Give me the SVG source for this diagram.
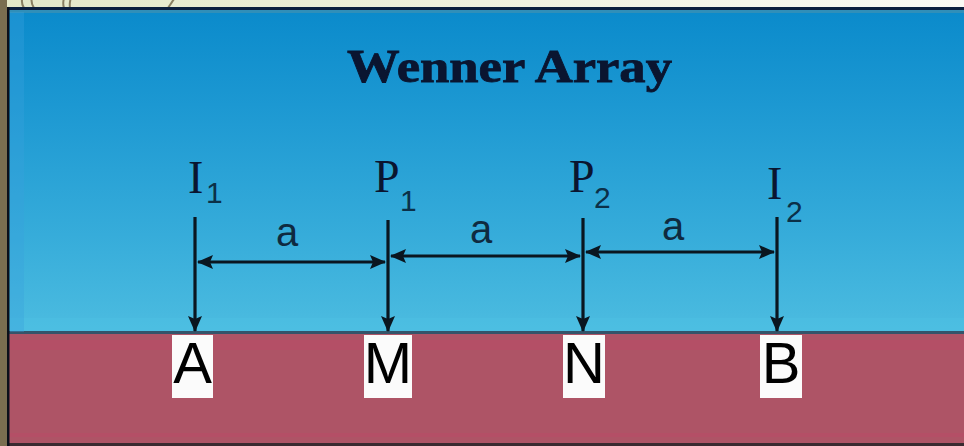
<svg xmlns="http://www.w3.org/2000/svg" width="964" height="446" viewBox="0 0 964 446">
  <defs>
    <linearGradient id="bg" x1="0" y1="0" x2="1" y2="0">
      <stop offset="0" stop-color="#e4e8c8"/>
      <stop offset="1" stop-color="#fafaf4"/>
    </linearGradient>
    <linearGradient id="sky" x1="0" y1="0" x2="0" y2="1">
      <stop offset="0" stop-color="#0a8acb"/>
      <stop offset="0.3" stop-color="#1c98d2"/>
      <stop offset="0.7" stop-color="#36acda"/>
      <stop offset="1" stop-color="#4cbce0"/>
    </linearGradient>
    <marker id="ah" viewBox="0 0 16 14" refX="15" refY="7" markerWidth="16" markerHeight="14" markerUnits="userSpaceOnUse" orient="auto-start-reverse">
      <path d="M0,0 L16,7 L0,14 L3,7 Z" fill="#0a1620"/>
    </marker>
    <clipPath id="topclip"><rect x="0" y="0" width="964" height="8"/></clipPath>
  </defs>
  <style>
    .ln{stroke:#0a1620;stroke-width:3.2;fill:none}
    .title{font-family:"Liberation Serif","Times New Roman",serif;font-weight:bold;fill:#0a1530;stroke:#0a1530;stroke-width:0.8}
    .big{font-family:"Liberation Serif","Times New Roman",serif;font-size:46px;fill:#0a1530}
    .sub{font-family:"Liberation Sans",Arial,sans-serif;font-size:30px;fill:#0b3048}
    .a{font-family:"Liberation Sans",Arial,sans-serif;font-size:40px;fill:#0f2a40;text-anchor:middle}
    .lbl{font-family:"Liberation Sans",Arial,sans-serif;font-size:58px;fill:#000;text-anchor:middle}
    .box{fill:#fbfbfb}
  </style>

  <!-- backdrop -->
  <rect x="0" y="0" width="964" height="446" fill="url(#bg)"/>
  <g clip-path="url(#topclip)" stroke="#8a8062" stroke-width="2" fill="none">
    <path d="M24,8 C20,2 22,-4 26,-10"/>
    <path d="M34,8 C30,2 31,-4 36,-10"/>
    <path d="M64,8 C62,2 64,-4 68,-10"/>
    <path d="M70,8 C69,2 71,-4 74,-10"/>
    <path d="M168,8 L176,-4"/>
  </g>
  <rect x="0" y="0" width="7" height="446" fill="#7a6e50"/>

  <!-- panel -->
  <rect x="7" y="7" width="957" height="325" fill="url(#sky)"/>
  <rect x="7" y="318" width="957" height="13" fill="#4cc0e2" opacity="0.6"/>
  <rect x="7" y="7" width="957" height="3" fill="#0b1f3e"/>
  <rect x="7" y="10" width="957" height="3" fill="#3a90b4" opacity="0.8"/>
  <rect x="7" y="331" width="957" height="3" fill="#34546a"/>
  <rect x="7" y="334" width="957" height="110" fill="#ae5466"/>
  <rect x="7" y="340" width="957" height="10" fill="#b84c66" opacity="0.6"/>
  <rect x="7" y="433" width="957" height="4" fill="#b84c66" opacity="0.6"/>
  <rect x="7" y="443" width="957" height="3" fill="#3a2a30"/>
  <rect x="7" y="7" width="2.5" height="439" fill="#0a0f1a"/>
  <rect x="10" y="12" width="14" height="320" fill="#3aa0dc" opacity="0.35"/>

  <!-- title -->
  <text class="title" x="347" y="82" font-size="46" textLength="325" lengthAdjust="spacingAndGlyphs">Wenner Array</text>

  <!-- connectors -->
  <g id="connectors">
    <line class="ln" x1="195" y1="217" x2="195" y2="331" marker-end="url(#ah)"/>
    <line class="ln" x1="388" y1="220" x2="388" y2="331" marker-end="url(#ah)"/>
    <line class="ln" x1="583" y1="218" x2="583" y2="331" marker-end="url(#ah)"/>
    <line class="ln" x1="777" y1="217" x2="777" y2="331" marker-end="url(#ah)"/>
    <line class="ln" x1="198" y1="262" x2="385" y2="262" marker-start="url(#ah)" marker-end="url(#ah)"/>
    <line class="ln" x1="391" y1="256" x2="580" y2="256" marker-start="url(#ah)" marker-end="url(#ah)"/>
    <line class="ln" x1="586" y1="252" x2="774" y2="252" marker-start="url(#ah)" marker-end="url(#ah)"/>
    <text class="a" x="287" y="246">a</text>
    <text class="a" x="481" y="243">a</text>
    <text class="a" x="673" y="240">a</text>
  </g>

  <!-- electrodes -->
  <g id="I1">
    <text class="big" x="188" y="193">I</text>
    <text class="sub" x="206" y="203">1</text>
  </g>
  <g id="P1">
    <text class="big" x="374" y="192">P</text>
    <text class="sub" x="400" y="211">1</text>
  </g>
  <g id="P2">
    <text class="big" x="569" y="192">P</text>
    <text class="sub" x="594" y="208">2</text>
  </g>
  <g id="I2">
    <text class="big" x="767" y="199">I</text>
    <text class="sub" x="786" y="222">2</text>
  </g>

  <!-- ground points -->
  <g id="A">
    <rect class="box" x="172" y="335" width="41" height="63"/>
    <text class="lbl" x="192.5" y="383">A</text>
  </g>
  <g id="M">
    <rect class="box" x="364" y="335" width="48" height="63"/>
    <text class="lbl" x="388" y="383">M</text>
  </g>
  <g id="N">
    <rect class="box" x="563" y="335" width="42" height="63"/>
    <text class="lbl" x="584" y="383">N</text>
  </g>
  <g id="B">
    <rect class="box" x="760" y="335" width="42" height="63"/>
    <text class="lbl" x="781" y="383">B</text>
  </g>
</svg>
